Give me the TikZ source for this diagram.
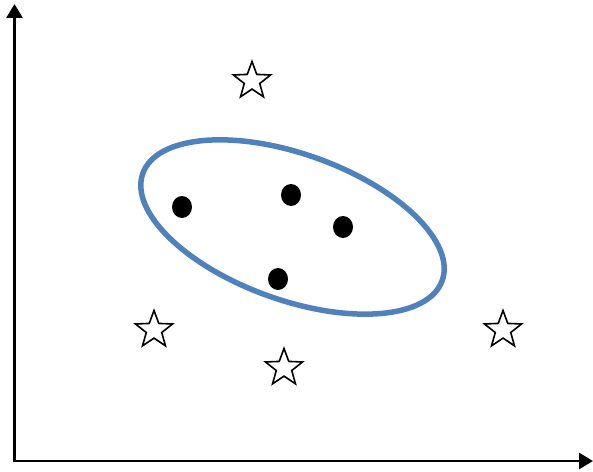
\documentclass[tikz,border=0pt]{standalone}
\usepackage{tikz}
\usetikzlibrary{arrows.meta,shapes.geometric}
\definecolor{clusterblue}{HTML}{4F81BD}
\definecolor{ink}{HTML}{000000}
\tikzset{
  axis/.style={{Triangle[length=14pt,width=16pt]}-{Triangle[length=14pt,width=16pt]},line width=2.6pt,draw=ink},
  inlier/.style={ellipse,fill=ink,inner sep=0pt,minimum width=20pt,minimum height=22pt},
  outlier/.style={star,star points=5,star point ratio=2.4,draw=ink,fill=white,line width=1.6pt,
    inner sep=0pt,minimum size=39pt},
  cluster/.style={ellipse,draw=clusterblue,line width=5.5pt,inner sep=0pt,
    minimum width=318pt,minimum height=146pt},
}

\begin{document}
\begin{tikzpicture}[x=1pt,y=1pt]
  \useasboundingbox (0,0) rectangle (593,471);
  \coordinate (ytip) at (14.5,467);
  \coordinate (xtip) at (593,10);
  \draw[axis] (ytip) |- (xtip);
  \node[cluster,rotate=-19.7] (region) at (292.5,244) {};
  \node[inlier] (p1) at (182,264) {};
  \node[inlier] (p2) at (291,276) {};
  \node[inlier] (p3) at (343,244) {};
  \node[inlier] (p4) at (278,192) {};
  \node[outlier] (s1) at (252,390) {};
  \node[outlier] (s2) at (154,141) {};
  \node[outlier] (s3) at (284,103) {};
  \node[outlier] (s4) at (503,141) {};
\end{tikzpicture}
\end{document}
